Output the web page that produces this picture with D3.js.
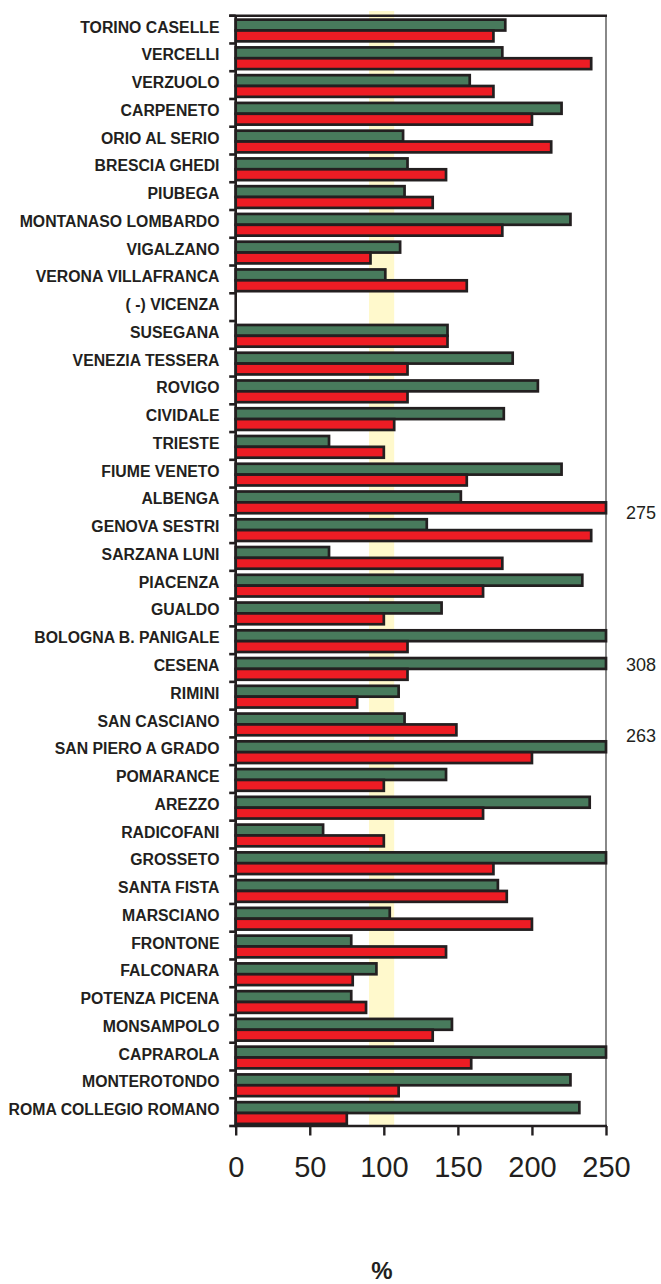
<!DOCTYPE html>
<html>
<head>
<meta charset="utf-8">
<script src="https://cdn.jsdelivr.net/npm/d3@7"></script>
<style>
	body { margin: 0; background: #fff; }
	svg { display: block; }
	text { font-family: Arial, 'Liberation Sans', sans-serif; fill: #231f20; }
</style>
</head>
<body>
<script>
// stations, top to bottom
var stations = [
	'TORINO CASELLE', 'VERCELLI', 'VERZUOLO', 'CARPENETO', 'ORIO AL SERIO',
	'BRESCIA GHEDI', 'PIUBEGA', 'MONTANASO LOMBARDO', 'VIGALZANO', 'VERONA VILLAFRANCA',
	'( -) VICENZA', 'SUSEGANA', 'VENEZIA TESSERA', 'ROVIGO', 'CIVIDALE',
	'TRIESTE', 'FIUME VENETO', 'ALBENGA', 'GENOVA SESTRI', 'SARZANA LUNI',
	'PIACENZA', 'GUALDO', 'BOLOGNA B. PANIGALE', 'CESENA', 'RIMINI',
	'SAN CASCIANO', 'SAN PIERO A GRADO', 'POMARANCE', 'AREZZO', 'RADICOFANI',
	'GROSSETO', 'SANTA FISTA', 'MARSCIANO', 'FRONTONE', 'FALCONARA',
	'POTENZA PICENA', 'MONSAMPOLO', 'CAPRAROLA', 'MONTEROTONDO', 'ROMA COLLEGIO ROMANO'
];

// percentages (green series, top bar of each pair)
var greenValues = [
	182, 180, 158, 220, 113,
	116, 114, 226, 111, 101,
	null, 143, 187, 204, 181,
	63, 220, 152, 129, 63,
	234, 139, 255, 308, 110,
	114, 263, 142, 239, 59,
	255, 177, 104, 78, 95,
	78, 146, 255, 226, 232
];

// percentages (red series, bottom bar of each pair)
var redValues = [
	174, 240, 174, 200, 213,
	142, 133, 180, 91, 156,
	null, 143, 116, 116, 107,
	100, 156, 275, 240, 180,
	167, 100, 116, 116, 82,
	149, 200, 100, 167, 100,
	174, 183, 200, 142, 79,
	88, 133, 159, 110, 75
];

var xTicks = [0, 50, 100, 150, 200, 250];
var normalRange = [90, 107];   // shaded yellow band
var axisTitle = '%';

// bars running past the axis end that carry their value on the right
var overflowNotes = [
	{ station: 'ALBENGA', series: 'red' },
	{ station: 'CESENA', series: 'green' },
	{ station: 'SAN PIERO A GRADO', series: 'green' }
];

var series = ['green', 'red'];
var colors = { green: '#487a5c', red: '#ed1c24' };
var valuesBySeries = { green: greenValues, red: redValues };

var width = 661, height = 1284;
var plot = { left: 235.7, right: 606, top: 15.7, bottom: 1126 };

var svg = d3.select('body').append('svg')
	.attr('width', width)
	.attr('height', height);

var x = d3.scaleLinear()
	.domain([0, 250])
	.range([plot.left, plot.right]);

var y = d3.scaleBand()
	.domain(stations)
	.range([plot.top, plot.bottom])
	.padding(0);

var bw = y.bandwidth();
var ySub = d3.scaleBand()
	.domain(series)
	.range([bw * 0.142, bw * 0.924])
	.padding(0);

// yellow reference band behind the bars
svg.append('rect')
	.attr('x', x(normalRange[0]))
	.attr('y', plot.top - 4.7)
	.attr('width', x(normalRange[1]) - x(normalRange[0]))
	.attr('height', plot.bottom - plot.top + 4.7)
	.attr('fill', '#fff9cc');

// right frame line (thin)
svg.append('line')
	.attr('x1', plot.right).attr('x2', plot.right)
	.attr('y1', plot.top).attr('y2', plot.bottom)
	.attr('stroke', '#3a3a3a')
	.attr('stroke-width', 1.2);

// bars
var rows = stations.map(function(s, i) {
	return series.map(function(k) {
		return { station: s, series: k, value: valuesBySeries[k][i] };
	});
});

var groups = svg.append('g').selectAll('g')
	.data(rows)
	.join('g')
		.attr('transform', function(d) { return 'translate(0,' + y(d[0].station) + ')'; });

groups.selectAll('rect')
	.data(function(d) { return d.filter(function(e) { return e.value != null; }); })
	.join('rect')
		.attr('x', x(0))
		.attr('y', function(d) { return ySub(d.series); })
		.attr('width', function(d) { return x(Math.min(d.value, 250)) - x(0); })
		.attr('height', ySub.bandwidth())
		.attr('fill', function(d) { return colors[d.series]; })
		.attr('stroke', '#231f20')
		.attr('stroke-width', 2.7);

// top frame line
svg.append('line')
	.attr('x1', plot.left - 6.5).attr('x2', plot.right + 1)
	.attr('y1', plot.top).attr('y2', plot.top)
	.attr('stroke', '#231f20')
	.attr('stroke-width', 2.6);

// y axis: ticks sit on the borders between stations
var yAxisG = svg.append('g');
yAxisG.append('line')
	.attr('x1', plot.left).attr('x2', plot.left)
	.attr('y1', plot.top).attr('y2', plot.bottom)
	.attr('stroke', '#231f20')
	.attr('stroke-width', 2.6);
yAxisG.selectAll('.ytick')
	.data(stations.concat(['__end']))
	.join('line')
		.attr('class', 'ytick')
		.attr('x1', plot.left - 6.5).attr('x2', plot.left)
		.attr('y1', function(d, i) { return plot.top + i * y.step(); })
		.attr('y2', function(d, i) { return plot.top + i * y.step(); })
		.attr('stroke', '#231f20')
		.attr('stroke-width', 2.6);
yAxisG.selectAll('.ylabel')
	.data(stations)
	.join('text')
		.attr('class', 'ylabel')
		.attr('x', 219.5)
		.attr('y', function(d) { return y(d) + bw / 2 + 3; })
		.attr('text-anchor', 'end')
		.style('font-size', '15.8px')
		.style('font-weight', 'bold')
		.text(function(d) { return d; });

// x axis
var xAxis = d3.axisBottom(x)
	.tickValues(xTicks)
	.tickSize(9.5)
	.tickPadding(21)
	.tickFormat(d3.format('d'));

var xAxisG = svg.append('g')
	.attr('transform', 'translate(0,' + plot.bottom + ')')
	.call(xAxis);
xAxisG.select('.domain')
	.attr('stroke', '#231f20')
	.attr('stroke-width', 2.6)
	.attr('d', 'M' + (plot.left - 1.3) + ',0H' + (plot.right + 1));
xAxisG.selectAll('.tick line')
	.attr('stroke', '#231f20')
	.attr('stroke-width', 2.4);
xAxisG.selectAll('.tick text')
	.attr('fill', '#231f20')
	.style('font-family', "Arial, 'Liberation Sans', sans-serif")
	.style('font-size', '29px');

svg.append('text')
	.attr('x', 382)
	.attr('y', 1279)
	.attr('text-anchor', 'middle')
	.style('font-size', '24px')
	.style('font-weight', 'bold')
	.text(axisTitle);

// values of the bars that run off the scale
var noteOffsets = { 'ALBENGA': 31.9, 'CESENA': 16.8, 'SAN PIERO A GRADO': 4.5 };
svg.append('g').selectAll('text')
	.data(overflowNotes)
	.join('text')
		.attr('x', 626)
		.attr('y', function(d) { return y(d.station) + noteOffsets[d.station]; })
		.style('font-size', '18px')
		.text(function(d) {
			return valuesBySeries[d.series][stations.indexOf(d.station)];
		});
</script>
</body>
</html>
